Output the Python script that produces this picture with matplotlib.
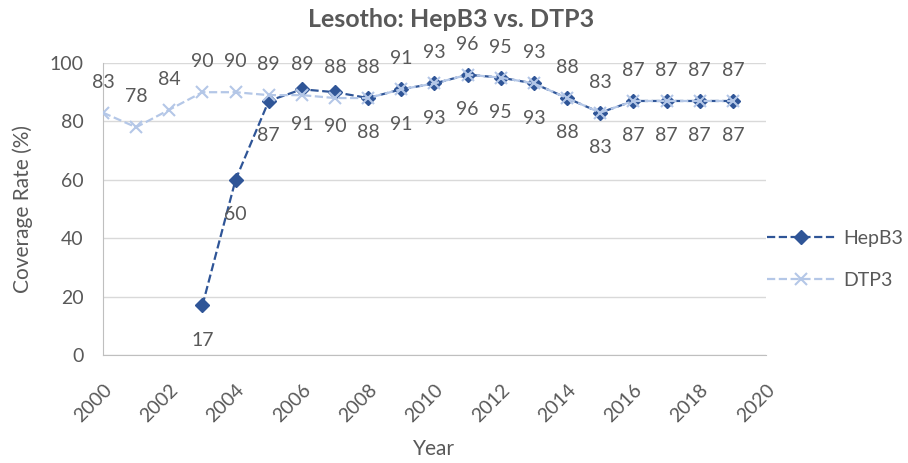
import matplotlib.pyplot as plt

# Lesotho HepB3 vs DTP3 coverage
years = list(range(2000, 2020))
hepb3_years = list(range(2003, 2020))
hepb3 = [17, 60, 87, 91, 90, 88, 91, 93, 96, 95, 93, 88, 83, 87, 87, 87, 87]
dtp3 = [83, 78, 84, 90, 90, 89, 89, 88, 88, 91, 93, 96, 95, 93, 88, 83, 87, 87, 87, 87]

grey = '#595959'
plt.rcParams['font.family'] = ['Lato', 'DejaVu Sans']

fig = plt.figure(figsize=(9.08, 4.63), dpi=100)
ax = fig.add_axes([0.1134, 0.2333, 0.7302, 0.6306])

ax.plot(hepb3_years, hepb3, color='#2F5597', linestyle='--', linewidth=1.6,
        marker='D', markersize=7.5, label='HepB3', zorder=3)
ax.plot(years, dtp3, color='#B4C7E7', linestyle='--', linewidth=1.6,
        marker='x', markersize=9, markeredgewidth=1.5, label='DTP3', zorder=4)

# data labels: DTP3 above, HepB3 below
for x, y in zip(years, dtp3):
    ax.annotate(str(y), (x, y), xytext=(0, 22), textcoords='offset points',
                ha='center', va='center', fontsize=14, color=grey)
for x, y in zip(hepb3_years, hepb3):
    ax.annotate(str(y), (x, y), xytext=(0, -25), textcoords='offset points',
                ha='center', va='center', fontsize=14, color=grey)

ax.set_xlim(2000, 2020)
ax.set_ylim(0, 100)
ax.set_xticks(range(2000, 2021, 2))
ax.set_yticks(range(0, 101, 20))
ax.tick_params(axis='both', length=0, labelsize=14, colors=grey)
ax.tick_params(axis='y', pad=14)
ax.tick_params(axis='x', pad=19)
for lbl in ax.get_xticklabels():
    lbl.set_rotation(45)
    lbl.set_ha('right')
    lbl.set_rotation_mode('anchor')

ax.grid(axis='y', color='#D9D9D9', linewidth=1)
ax.set_axisbelow(True)
for s in ['top', 'right']:
    ax.spines[s].set_visible(False)
for s in ['left', 'bottom']:
    ax.spines[s].set_color('#BFBFBF')

ax.set_xlabel('Year', fontsize=15, color=grey, labelpad=10)
ax.set_ylabel('Coverage Rate (%)', fontsize=15, color=grey, labelpad=12)
fig.text(0.497, 0.957, 'Lesotho: HepB3 vs. DTP3', fontsize=18, fontweight='bold',
         color=grey, ha='center', va='center')

fig.legend(loc='center left', bbox_to_anchor=(767 / 908, 0.4395), frameon=False,
           fontsize=14, labelcolor=grey, handlelength=3.5, handletextpad=0.4,
           labelspacing=1.3, borderpad=0, borderaxespad=0)

fig.savefig('out.png', dpi=100)
